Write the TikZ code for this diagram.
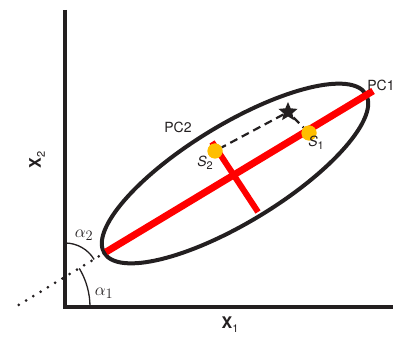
\documentclass[tikz,border=0pt]{standalone}
\usepackage{fontspec}
\setmainfont{TeX Gyre Heros}
\usetikzlibrary{shapes.geometric}
\definecolor{axcol}{RGB}{35,31,32}
\definecolor{pcred}{RGB}{255,0,0}
\definecolor{dotyel}{RGB}{255,190,0}
\newcommand{\lowsub}[1]{\raisebox{-0.45ex}{\fontsize{11}{12}\selectfont #1}}
\begin{document}
\begin{tikzpicture}[x=1pt,y=1pt,
  axisline/.style={line width=4.5pt, color=axcol},
  pcline/.style={line width=7pt, color=pcred},
  pctwoline/.style={line width=6pt, color=pcred},
  ellline/.style={line width=4pt, color=axcol},
  dotline/.style={line width=3pt, color=axcol, line cap=round, dash pattern=on 0pt off 8.5pt},
  dashline/.style={line width=2.2pt, color=axcol, dash pattern=on 8pt off 5pt},
  anglearc/.style={line width=1.3pt, color=axcol},
  sample/.style={circle, fill=dotyel, minimum size=15pt, inner sep=0pt},
  starmark/.style={star, star points=5, star point ratio=2.2, fill=axcol, minimum size=20pt, inner sep=0pt},
  lab/.style={font=\fontsize{14}{16}\selectfont, text=axcol, inner sep=1pt},
  alab/.style={font=\fontsize{19}{21}\selectfont, text=axcol, inner sep=1pt},
  axlab/.style={font=\fontsize{16}{18}\selectfont\bfseries, text=axcol, inner sep=1pt}]
\useasboundingbox (0,0) rectangle (395,337);
% coordinates
\coordinate (O) at (65,30);
\coordinate (Ytop) at (65,327);
\coordinate (Xend) at (393,30);
\coordinate (A) at (106,85);
\coordinate (B) at (373,246);
\coordinate (D) at (12,28);
\coordinate (C) at (235,163.5);
\coordinate (P2a) at (212,195);
\coordinate (P2b) at (258,125);
% axes
\draw[axisline, line join=miter] (Ytop) -- (O) -- (Xend);
% dotted extension
\draw[dotline] (A) -- (D);
% angle arcs
\draw[anglearc] (90,30) arc[start angle=0, end angle=31, radius=75pt];
\draw[anglearc] (65,94) arc[start angle=90, end angle=31, radius=34pt];
% ellipse
\draw[ellline, rotate around={31.3:(C)}] (C) ellipse [x radius=153pt, y radius=49pt];
% principal components
\draw[pcline] (A) -- (B);
\draw[pctwoline] (P2a) -- (P2b);
% samples
\node[starmark] (st) at (288,225) {};
\node[sample] (s1) at (309,204) {};
\node[sample] (s2) at (215,186) {};
\draw[dashline] (st) -- (s2);
\draw[dashline] (st) -- (s1);
\node[sample] at (s1) {};
\node[sample] at (s2) {};
% labels
\node[lab] (pc1) at (381,252) {PC1};
\node[lab] (pc2) at (178,210) {PC2};
\node[lab] (l2) at (205,174) {\textit{S}\lowsub{2}};
\node[lab] (l1) at (316,194) {\textit{S}\lowsub{1}};
\node[axlab, rotate=90] (x2) at (37,177) {X\lowsub{\mdseries 2}};
\node[axlab] (x1) at (230,12) {X\lowsub{\mdseries 1}};
\node[alab] (a2) at (84,102) {$\alpha_2$};
\node[alab] (a1) at (104,44) {$\alpha_1$};
\end{tikzpicture}
\end{document}
